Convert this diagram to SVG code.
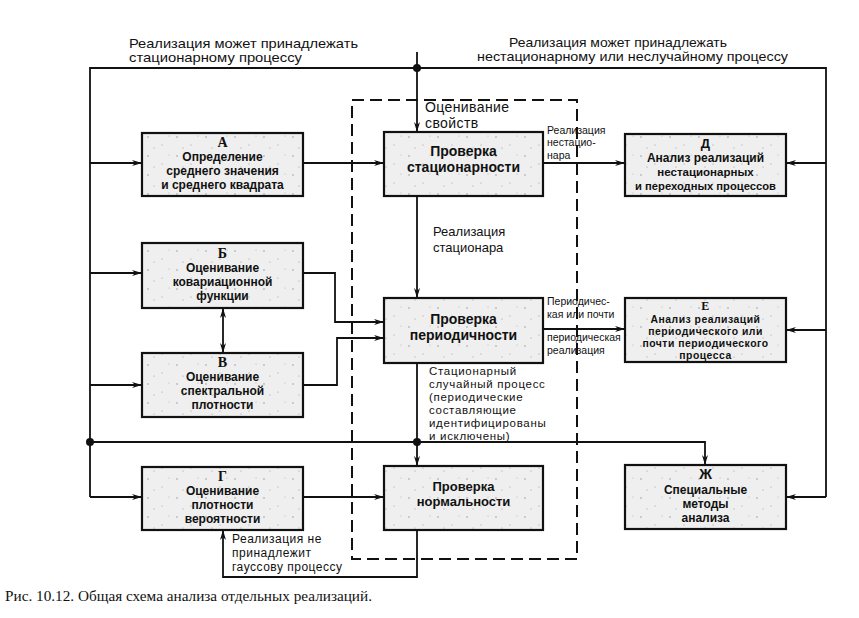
<svg xmlns="http://www.w3.org/2000/svg" width="859" height="618" viewBox="0 0 859 618">
<style>
.box{fill:url(#sp);stroke:#111;stroke-width:2.2}
.ln{fill:none;stroke:#111;stroke-width:1.8}
.ar{marker-end:url(#ah)}
.dash{fill:none;stroke:#111;stroke-width:2;stroke-dasharray:12 6}
.bt{font-family:"Liberation Sans",Arial,sans-serif;font-weight:bold;font-size:12px;text-anchor:middle;fill:#111}
.ct{font-family:"Liberation Sans",Arial,sans-serif;font-weight:bold;font-size:14px;text-anchor:middle;fill:#111}
.lt{font-family:"Liberation Serif","Times New Roman",serif;font-weight:bold;font-size:14px}
.ls{font-family:"Liberation Sans",Arial,sans-serif;font-weight:bold;font-size:14px}
.lb{font-family:"Liberation Sans",Arial,sans-serif;font-size:13px;fill:#111}
.sm{font-family:"Liberation Sans",Arial,sans-serif;font-size:10.5px;fill:#111}
.cap{font-family:"Liberation Serif","Times New Roman",serif;font-size:14.5px;fill:#111}
</style>
<defs>
<pattern id="sp" width="29" height="19" patternUnits="userSpaceOnUse">
<rect width="29" height="19" fill="#efefef"/>
<circle cx="3" cy="4" r="0.7" fill="#888"/>
<circle cx="17" cy="12" r="0.6" fill="#999"/>
<circle cx="24" cy="3" r="0.5" fill="#aaa"/>
<circle cx="9" cy="15" r="0.6" fill="#999"/>
</pattern>
<marker id="ah" viewBox="0 0 10 6" refX="10" refY="3" markerWidth="10" markerHeight="6" orient="auto-start-reverse" markerUnits="userSpaceOnUse">
<path d="M0,0 L10,3 L0,6 L3,3 z" fill="#111"/>
</marker>
</defs>
<rect width="859" height="618" fill="#fff"/>

<g id="region">
<rect class="dash" x="352" y="100" width="225" height="459"/>
<text class="lb" style="font-size:14px" letter-spacing="0.4"><tspan x="425" y="112">Оценивание</tspan><tspan x="425" y="128">свойств</tspan></text>
</g>

<g id="connectors">
<path class="ln" d="M90,497 V68 H826 V497"/>
<path class="ln ar" d="M417,52 V132"/>
<path class="ln ar" d="M90,163 H142"/>
<path class="ln ar" d="M90,273 H142"/>
<path class="ln ar" d="M90,385 H142"/>
<path class="ln ar" d="M90,497 H142"/>
<path class="ln ar" d="M826,163 H786"/>
<path class="ln ar" d="M826,330 H786"/>
<path class="ln ar" d="M826,497 H786"/>
<path class="ln ar" d="M303,163 H384"/>
<path class="ln ar" d="M543,163 H625"/>
<path class="ln ar" d="M417,196 V298"/>
<path class="ln ar" d="M303,273 H335 V322 H384"/>
<path class="ln ar" d="M303,385 H337 V338 H384"/>
<path class="ln" d="M223,308 V353" marker-start="url(#ah)" marker-end="url(#ah)"/>
<path class="ln ar" d="M543,329 H625"/>
<path class="ln ar" d="M417,363 V466"/>
<path class="ln ar" d="M90,442 H705 V465"/>
<path class="ln ar" d="M303,497 H384"/>
<path class="ln ar" d="M417,530 V577 H223 V530"/>
<circle cx="417" cy="68" r="4" fill="#111"/>
<circle cx="90" cy="442" r="4" fill="#111"/>
<circle cx="417" cy="442" r="4" fill="#111"/>
</g>

<g id="labels">
<text class="lb" x="129" y="47.5" style="font-size:12.8px" textLength="229" lengthAdjust="spacingAndGlyphs">Реализация может принадлежать</text>
<text class="lb" x="129" y="62" style="font-size:12.8px" textLength="173" lengthAdjust="spacingAndGlyphs">стационарному процессу</text>
<text class="lb" x="509" y="46.5" style="font-size:12.8px" textLength="218" lengthAdjust="spacingAndGlyphs">Реализация может принадлежать</text>
<text class="lb" x="477" y="61" style="font-size:12.8px" textLength="311" lengthAdjust="spacingAndGlyphs">нестационарному или  неслучайному процессу</text>
<text class="sm"><tspan x="547" y="133.5">Реализация</tspan><tspan x="547" y="146">нестацио-</tspan><tspan x="547" y="158.5">нара</tspan></text>
<text class="lb"><tspan x="433" y="236">Реализация</tspan><tspan x="433" y="251.5">стационара</tspan></text>
<text class="sm"><tspan x="547" y="305">Периодичес-</tspan><tspan x="547" y="317.5">кая или почти</tspan></text>
<text class="sm"><tspan x="547" y="341">периодическая</tspan><tspan x="547" y="353.5">реализация</tspan></text>
<text class="lb" style="font-size:11.5px" letter-spacing="0.7"><tspan x="429" y="375">Стационарный</tspan><tspan x="429" y="387.9">случайный процесс</tspan><tspan x="429" y="400.8">(периодические</tspan><tspan x="429" y="413.7">составляющие</tspan><tspan x="429" y="426.6">идентифицированы</tspan><tspan x="429" y="439.5">и исключены)</tspan></text>
<text class="lb" style="font-size:12px" letter-spacing="0.5"><tspan x="232" y="543">Реализация не</tspan><tspan x="232" y="557">принадлежит</tspan><tspan x="232" y="571">гауссову процессу</tspan></text>
</g>

<g id="A">
<rect class="box" x="142" y="133" width="161" height="63"/>
<text class="bt"><tspan class="lt" x="222.5" y="147">А</tspan><tspan x="222.5" y="161">Определение</tspan><tspan x="222.5" y="175">среднего значения</tspan><tspan x="222.5" y="189">и среднего квадрата</tspan></text>
</g>
<g id="B">
<rect class="box" x="142" y="243" width="161" height="65"/>
<text class="bt"><tspan class="lt" x="222.5" y="258">Б</tspan><tspan x="222.5" y="272">Оценивание</tspan><tspan x="222.5" y="286">ковариационной</tspan><tspan x="222.5" y="300">функции</tspan></text>
</g>
<g id="V">
<rect class="box" x="142" y="353" width="161" height="64"/>
<text class="bt"><tspan class="lt" x="222.5" y="367">В</tspan><tspan x="222.5" y="381">Оценивание</tspan><tspan x="222.5" y="395">спектральной</tspan><tspan x="222.5" y="409">плотности</tspan></text>
</g>
<g id="G">
<rect class="box" x="142" y="467" width="161" height="63"/>
<text class="bt"><tspan class="lt" x="222.5" y="481">Г</tspan><tspan x="222.5" y="495">Оценивание</tspan><tspan x="222.5" y="509">плотности</tspan><tspan x="222.5" y="523">вероятности</tspan></text>
</g>
<g id="stat">
<rect class="box" x="384" y="132" width="159" height="64"/>
<text class="ct"><tspan x="463.5" y="156">Проверка</tspan><tspan x="463.5" y="172">стационарности</tspan></text>
</g>
<g id="period">
<rect class="box" x="384" y="298" width="159" height="65"/>
<text class="ct"><tspan x="463.5" y="324">Проверка</tspan><tspan x="463.5" y="340">периодичности</tspan></text>
</g>
<g id="norm">
<rect class="box" x="384" y="466" width="159" height="64"/>
<text class="ct" style="font-size:13px"><tspan x="463.5" y="491">Проверка</tspan><tspan x="463.5" y="506">нормальности</tspan></text>
</g>
<g id="D">
<rect class="box" x="625" y="134" width="161" height="62"/>
<text class="bt" style="font-size:11.5px"><tspan class="ls" style="font-size:13px" x="705.5" y="148">Д</tspan><tspan x="705.5" y="162" style="font-size:12px">Анализ реализаций</tspan><tspan x="705.5" y="176">нестационарных</tspan><tspan x="705.5" y="190" style="font-size:11.2px">и переходных процессов</tspan></text>
</g>
<g id="E">
<rect class="box" x="625" y="298" width="161" height="64"/>
<text class="bt" style="font-size:10.4px" letter-spacing="0.5"><tspan class="lt" style="font-size:12px" x="705.5" y="310">Е</tspan><tspan x="705.5" y="322.5">Анализ реализаций</tspan><tspan x="705.5" y="334.5">периодического или</tspan><tspan x="705.5" y="346.5">почти  периодического</tspan><tspan x="705.5" y="358.5">процесса</tspan></text>
</g>
<g id="Zh">
<rect class="box" x="625" y="465" width="161" height="64"/>
<text class="bt"><tspan class="ls" x="705.5" y="479">Ж</tspan><tspan x="705.5" y="494">Специальные</tspan><tspan x="705.5" y="508">методы</tspan><tspan x="705.5" y="522">анализа</tspan></text>
</g>

<text class="cap" x="5" y="601" textLength="367" lengthAdjust="spacingAndGlyphs">Рис. 10.12. Общая схема анализа отдельных реализаций.</text>
</svg>
